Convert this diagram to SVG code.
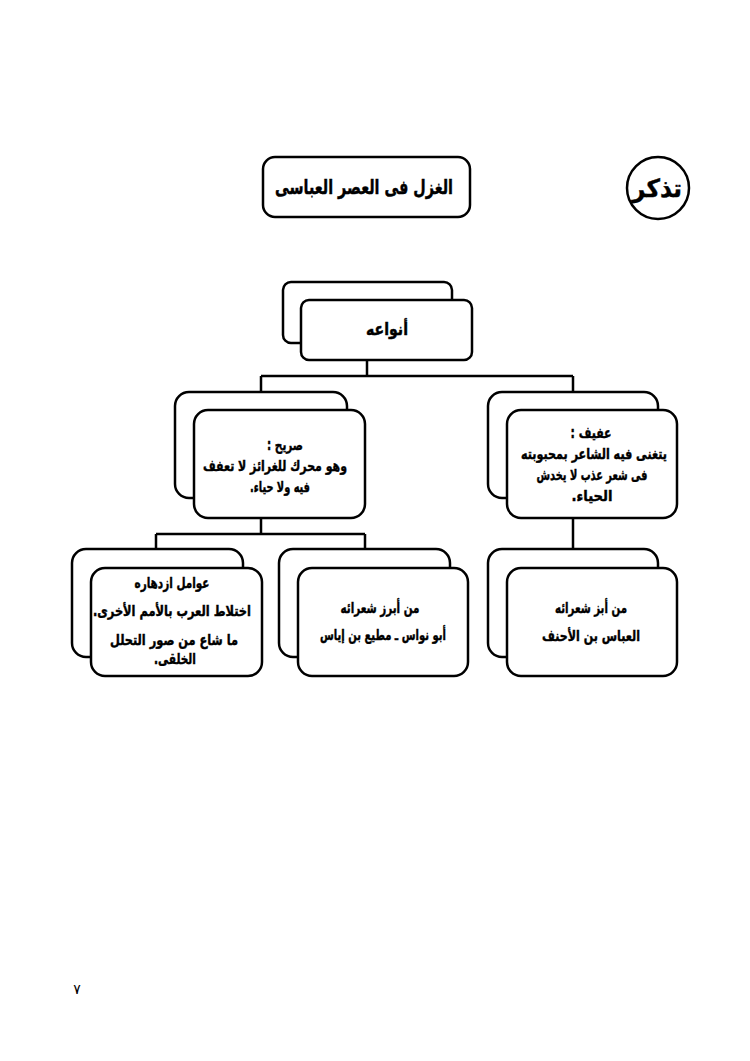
<svg xmlns="http://www.w3.org/2000/svg" width="750" height="1061" viewBox="0 0 750 1061">
<style>
.box{fill:#fff;stroke:#000;stroke-width:2.5}
.ln{fill:none;stroke:#000;stroke-width:2.5}
text{font-family:"DejaVu Sans","Noto Sans",sans-serif;font-weight:bold;fill:#000;text-anchor:middle;direction:rtl;stroke:#000;stroke-width:0.45}
.t{font-size:15px}
.pn{font-weight:normal;font-size:14px;stroke:none}
</style>
<rect width="750" height="1061" fill="#fff"/>
<g id="title">
<rect class="box" x="263" y="157" width="207" height="60" rx="12"/>
<text x="364" y="194" font-size="20" textLength="178" lengthAdjust="spacingAndGlyphs">الغزل فى العصر العباسى</text>
</g>
<g id="remember">
<circle class="box" cx="658" cy="188" r="31"/>
<text x="657" y="197" font-size="25" textLength="50" lengthAdjust="spacingAndGlyphs">تذكر</text>
</g>
<g id="connectors">
<path class="ln" d="M367 361V376M261 376H573M261 376V392M573 376V392"/>
<path class="ln" d="M261 518V534M156 534H365M156 534V549M365 534V549"/>
<path class="ln" d="M573 518V549"/>
</g>
<g id="types">
<rect class="box" x="283" y="282" width="169" height="61" rx="8"/>
<rect class="box" x="301" y="300" width="171" height="60" rx="8"/>
<text x="387" y="335" font-size="17" textLength="42" lengthAdjust="spacingAndGlyphs">أنواعه</text>
</g>
<g id="sarih">
<rect class="box" x="175" y="392" width="172" height="106" rx="14"/>
<rect class="box" x="194" y="410" width="171" height="108" rx="14"/>
<text class="t" x="285" y="450" textLength="36" lengthAdjust="spacingAndGlyphs">صريح :</text>
<text class="t" x="275" y="471" textLength="144" lengthAdjust="spacingAndGlyphs">وهو محرك للغرائز لا تعفف</text>
<text class="t" x="280" y="492" textLength="60" lengthAdjust="spacingAndGlyphs">فيه ولا حياء.</text>
</g>
<g id="afif">
<rect class="box" x="488" y="392" width="170" height="106" rx="14"/>
<rect class="box" x="507" y="410" width="170" height="108" rx="14"/>
<text class="t" x="591" y="438" textLength="41" lengthAdjust="spacingAndGlyphs">عفيف :</text>
<text class="t" x="594" y="459" textLength="146" lengthAdjust="spacingAndGlyphs">يتغنى فيه الشاعر بمحبوبته</text>
<text class="t" x="592" y="480" textLength="111" lengthAdjust="spacingAndGlyphs">فى شعر عذب لا يخدش</text>
<text class="t" x="592" y="501" textLength="41" lengthAdjust="spacingAndGlyphs">الحياء.</text>
</g>
<g id="factors">
<rect class="box" x="72" y="549" width="171" height="108" rx="14"/>
<rect class="box" x="91" y="568" width="171" height="108" rx="14"/>
<text class="t" x="172" y="588" textLength="75" lengthAdjust="spacingAndGlyphs">عوامل ازدهاره</text>
<text class="t" x="172" y="616" textLength="158" lengthAdjust="spacingAndGlyphs">اختلاط العرب بالأمم الأخرى.</text>
<text class="t" x="174" y="645" textLength="128" lengthAdjust="spacingAndGlyphs">ما شاع من صور التحلل</text>
<text class="t" x="175" y="664" textLength="42" lengthAdjust="spacingAndGlyphs">الخلقى.</text>
</g>
<g id="sarih-poets">
<rect class="box" x="279" y="549" width="171" height="108" rx="14"/>
<rect class="box" x="298" y="568" width="170" height="108" rx="14"/>
<text class="t" x="380" y="613" textLength="79" lengthAdjust="spacingAndGlyphs">من أبرز شعرائه</text>
<text class="t" x="383" y="640" textLength="126" lengthAdjust="spacingAndGlyphs">أبو نواس ـ مطيع بن إياس</text>
</g>
<g id="afif-poets">
<rect class="box" x="488" y="549" width="170" height="108" rx="14"/>
<rect class="box" x="507" y="568" width="170" height="108" rx="14"/>
<text class="t" x="591" y="613" textLength="72" lengthAdjust="spacingAndGlyphs">من أبز شعرائه</text>
<text class="t" x="591" y="641" textLength="98" lengthAdjust="spacingAndGlyphs">العباس بن الأحنف</text>
</g>
<text class="pn" x="77" y="994">٧</text>
</svg>
